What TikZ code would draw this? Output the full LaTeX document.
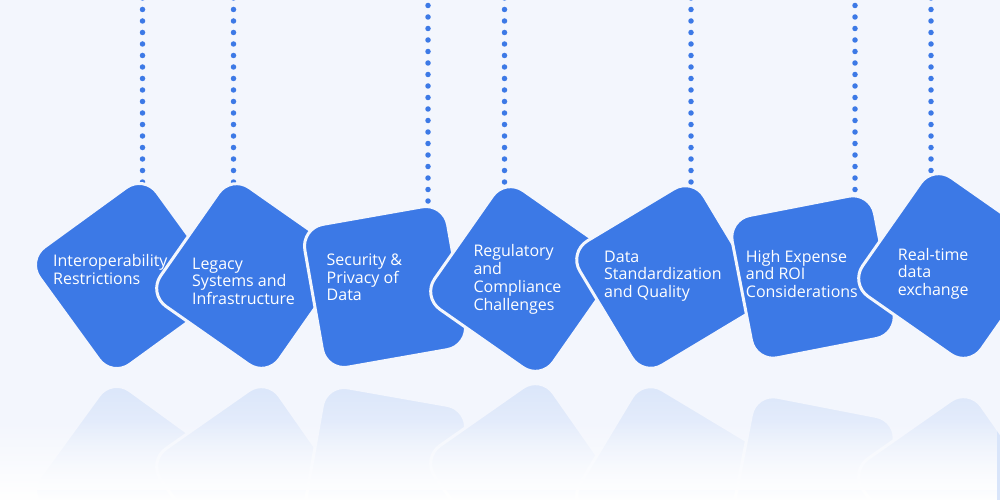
\documentclass[tikz,border=0pt]{standalone}
\usepackage{fontspec}
\setmainfont{Open Sans}
\usetikzlibrary{fadings,calc}
\definecolor{bgc}{HTML}{F3F6FD}
\definecolor{blu}{HTML}{3C79E6}
\colorlet{refl}{blu!14!bgc}
\tikzfading[name=fadedown, top color=transparent!100, bottom color=transparent!0]
\pgfdeclarelayer{bgl}
\pgfdeclarelayer{dots}
\pgfsetlayers{bgl,dots,main}
\begin{document}
\begin{tikzpicture}[x=1pt,y=-1pt,
  tile/.style={rectangle, rounded corners=22pt, minimum size=145pt, inner sep=0pt, fill=blu, draw=bgc, line width=3pt},
  mirror/.style={tile, fill=refl, draw=bgc},
  dotline/.style={blu, line width=5.5pt, line cap=round, dash pattern=on 0pt off 11.5pt},
  lbl/.style={text=white, align=left, inner sep=0pt, anchor=base west, font=\fontsize{16}{17.8}\selectfont}]
\useasboundingbox (0,0) rectangle (1000,500);
\begin{pgfonlayer}{bgl}
\fill[bgc] (0,0) rectangle (1000,500);
\end{pgfonlayer}
% reflections
\node[mirror, rotate=-36] (r1) at (128,479) {};
\node[mirror, rotate=35] (r2) at (249,479) {};
\node[mirror, rotate=-10] (r3) at (385,468) {};
\node[mirror, rotate=35] (r4) at (523,476) {};
\node[mirror, rotate=-31] (r5) at (668,478) {};
\node[mirror, rotate=-11] (r6) at (813,478) {};
\node[mirror, rotate=35] (r7) at (951,489) {};
\fill[bgc, path fading=fadedown] (0,375) rectangle (1000,490);
\fill[white, path fading=fadedown] (0,420) rectangle (1000,500);
% tiles
\node[tile, rotate=36] (b1) at (128,276) {};
\node[tile, rotate=-35] (b2) at (249,276) {};
\node[tile, rotate=10] (b3) at (385,287) {};
\node[tile, rotate=-35] (b4) at (523,279) {};
\node[tile, rotate=31] (b5) at (668,277) {};
\node[tile, rotate=11] (b6) at (813,277) {};
\node[tile, rotate=-35] (b7) at (951,266) {};
% hanging dotted lines
\coordinate (t1) at (142.5,-2);
\coordinate (t2) at (233.5,-2);
\coordinate (t3) at (428,-6);
\coordinate (t4) at (504.5,-2);
\coordinate (t5) at (691,-2);
\coordinate (t6) at (855,-6);
\coordinate (t7) at (931,-2);
\begin{pgfonlayer}{dots}
\foreach \i in {1,...,7}{
  \draw[dotline] (t\i) -- (t\i |- b\i.center);
}
\end{pgfonlayer}
% labels (anchored at the baseline of the last line)
\node[lbl] (l1) at (53,284.3) {Interoperability\\Restrictions};
\node[lbl] (l2) at (192,304.6) {Legacy\\Systems and\\Infrastructure};
\node[lbl] (l3) at (326.5,300.9) {Security \&\\Privacy of\\Data};
\node[lbl] (l4) at (473.3,310.1) {Regulatory\\and\\Compliance\\Challenges};
\node[lbl] (l5) at (604,297.6) {Data\\Standardization\\and Quality};
\node[lbl] (l6) at (745.7,297.6) {High Expense\\and ROI\\Considerations};
\node[lbl] (l7) at (897.7,295.6) {Real-time\\data\\exchange};
\end{tikzpicture}
\end{document}
